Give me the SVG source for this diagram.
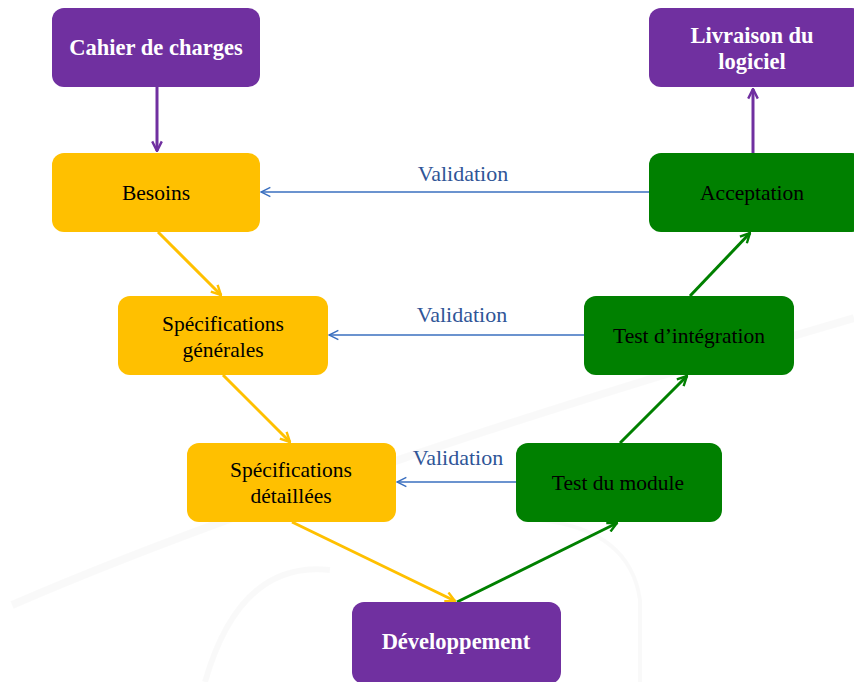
<svg xmlns="http://www.w3.org/2000/svg" width="854" height="682" viewBox="0 0 854 682">
<style>
.box{stroke:none}
.p{fill:#7030A0}
.y{fill:#FFC000}
.g{fill:#008000}
.tw{font-family:"Liberation Serif","DejaVu Serif",serif;font-size:22.5px;font-weight:bold;fill:#ffffff;text-anchor:middle}
.tb{font-family:"Liberation Serif","DejaVu Serif",serif;font-size:21.5px;fill:#000000;text-anchor:middle}
.tv{font-family:"Liberation Serif","DejaVu Serif",serif;font-size:22px;fill:#2F5597;text-anchor:middle}
.cp{stroke:#7030A0;stroke-width:3;fill:none}
.cy{stroke:#FFC000;stroke-width:3;fill:none}
.cg{stroke:#008000;stroke-width:3;fill:none}
.cv{stroke:#3A6FBF;stroke-width:1.3;fill:none}
.bg{fill:none;stroke:#000;stroke-opacity:0.025}
</style>
<defs>
<marker id="ap" viewBox="0 0 10 10" refX="9" refY="5" markerWidth="4" markerHeight="4" orient="auto" markerUnits="strokeWidth"><path d="M1,1 L9,5 L1,9" fill="none" stroke="#7030A0" stroke-width="2"/></marker>
<marker id="ay" viewBox="0 0 10 10" refX="9" refY="5" markerWidth="4" markerHeight="4" orient="auto" markerUnits="strokeWidth"><path d="M1,1 L9,5 L1,9" fill="none" stroke="#FFC000" stroke-width="2"/></marker>
<marker id="ag" viewBox="0 0 10 10" refX="9" refY="5" markerWidth="4" markerHeight="4" orient="auto" markerUnits="strokeWidth"><path d="M1,1 L9,5 L1,9" fill="none" stroke="#008000" stroke-width="2"/></marker>
<marker id="av" viewBox="0 0 10 10" refX="9" refY="5" markerWidth="9" markerHeight="9" orient="auto" markerUnits="strokeWidth"><path d="M1,1 L9,5 L1,9" fill="none" stroke="#3A6FBF" stroke-width="1.2"/></marker>
</defs>
<rect x="0" y="0" width="854" height="682" fill="#ffffff"/>
<g id="background">
<path class="bg" d="M12,605 Q300,480 854,318" stroke-width="8"/>
<path class="bg" d="M205,682 Q240,560 330,570" stroke-width="6"/>
<path class="bg" d="M540,520 Q630,530 640,600 L640,682" stroke-width="4"/>
</g>
<g id="connectors">
<line class="cp" x1="157" y1="87" x2="157" y2="151" marker-end="url(#ap)"/>
<line class="cp" x1="753" y1="153" x2="753" y2="89" marker-end="url(#ap)"/>
<line class="cy" x1="158" y1="232" x2="221" y2="295" marker-end="url(#ay)"/>
<line class="cy" x1="223" y1="375" x2="290" y2="442" marker-end="url(#ay)"/>
<line class="cy" x1="292" y1="522" x2="455" y2="601" marker-end="url(#ay)"/>
<line class="cg" x1="457" y1="602" x2="617" y2="523" marker-end="url(#ag)"/>
<line class="cg" x1="620" y1="443" x2="687" y2="376" marker-end="url(#ag)"/>
<line class="cg" x1="690" y1="296" x2="750" y2="233" marker-end="url(#ag)"/>
<line class="cv" x1="649" y1="192" x2="261" y2="192" marker-end="url(#av)"/>
<line class="cv" x1="584" y1="335" x2="329" y2="335" marker-end="url(#av)"/>
<line class="cv" x1="516" y1="482" x2="397" y2="482" marker-end="url(#av)"/>
<text class="tv" x="463" y="181">Validation</text>
<text class="tv" x="462" y="322">Validation</text>
<text class="tv" x="458" y="465">Validation</text>
</g>
<g id="cahier"><rect class="box p" x="52" y="8" width="208" height="79" rx="12"/><text class="tw" x="156" y="55">Cahier de charges</text></g>
<g id="livraison"><rect class="box p" x="649" y="8" width="215" height="79" rx="12"/><text class="tw" x="752" y="43">Livraison du</text><text class="tw" x="752" y="69">logiciel</text></g>
<g id="besoins"><rect class="box y" x="52" y="153" width="208" height="79" rx="12"/><text class="tb" x="156" y="200">Besoins</text></g>
<g id="acceptation"><rect class="box g" x="649" y="153" width="215" height="79" rx="12"/><text class="tb" x="752" y="200">Acceptation</text></g>
<g id="specgen"><rect class="box y" x="118" y="296" width="210" height="79" rx="12"/><text class="tb" x="223" y="331">Spécifications</text><text class="tb" x="223" y="357">générales</text></g>
<g id="testint"><rect class="box g" x="584" y="296" width="210" height="79" rx="12"/><text class="tb" x="689" y="343">Test d’intégration</text></g>
<g id="specdet"><rect class="box y" x="187" y="443" width="209" height="79" rx="12"/><text class="tb" x="291" y="477">Spécifications</text><text class="tb" x="291" y="503">détaillées</text></g>
<g id="testmod"><rect class="box g" x="516" y="443" width="206" height="79" rx="12"/><text class="tb" x="618" y="490">Test du module</text></g>
<g id="dev"><rect class="box p" x="352" y="602" width="209" height="82" rx="12"/><text class="tw" x="456" y="649">Développement</text></g>
</svg>
